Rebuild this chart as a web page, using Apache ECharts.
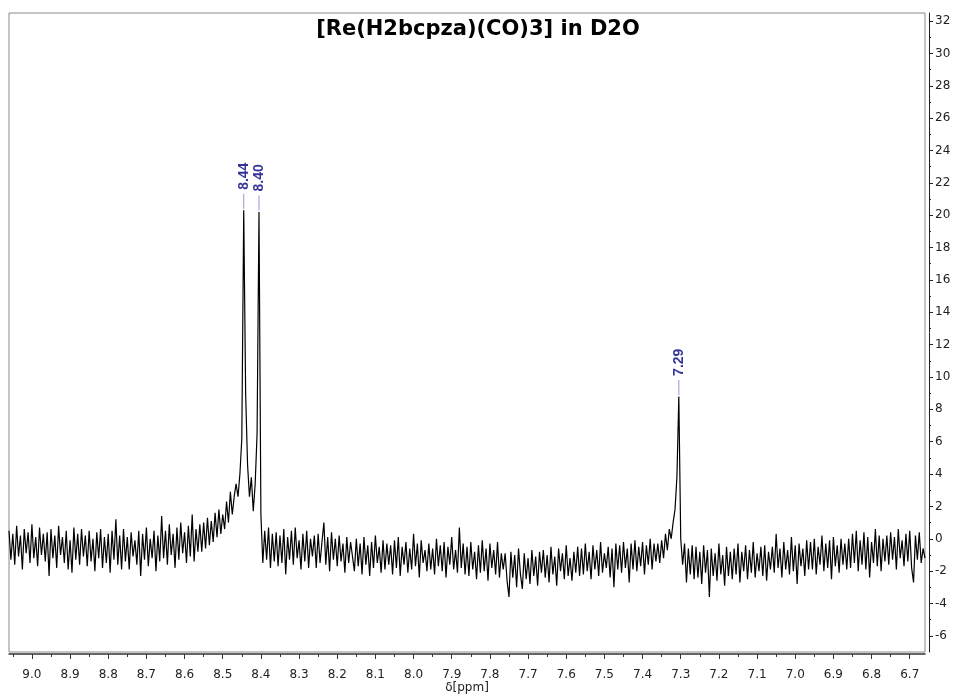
<!DOCTYPE html>
<html>
<head>
<meta charset="utf-8">
<title>[Re(H2bcpza)(CO)3] in D2O</title>
<script src="https://cdn.jsdelivr.net/npm/echarts@6/dist/echarts.min.js"></script>
<style>
  html, body { margin: 0; padding: 0; background: #fff; }
  #chart { width: 956px; height: 699px; }
</style>
</head>
<body>
<div id="chart"></div>
<script>
// spectrum sampled every 0.005 ppm from 9.06 down to 6.66
const ppmStart = 9.06;
const ppmStep = 0.005;
const intensity = [
  0.5, -1.3, 0.3, -1.6, 0.8, -1.1, 0.2, -1.9, 0.6, -0.9, 0.4, -1.5, 0.9, -1.2, 0.1, -1.7, 0.7, -1.0, 0.3, -1.4,
  0.4, -2.3, 0.6, -1.2, 0.2, -1.8, 0.8, -1.0, 0.1, -1.5, 0.5, -1.9, -0.1, -2.1, 0.7, -1.3, 0.3, -1.6, 0.6, -1.1,
  0.2, -1.7, 0.5, -1.4, 0.0, -2.0, 0.4, -1.2, 0.6, -1.8, 0.1, -1.5, 0.3, -2.1, 0.5, -1.3, 1.2, -1.6, 0.2, -1.9,
  0.6, -1.4, 0.1, -1.9, 0.4, -1.1, -0.1, -1.6, 0.5, -2.3, 0.3, -1.3, 0.7, -1.7, 0.0, -1.2, 0.5, -2.0, 0.2, -1.4,
  1.4, -1.2, 0.5, -1.6, 0.9, -1.0, 0.3, -1.8, 0.7, -1.3, 1.0, -0.9, 0.4, -1.5, 0.8, -1.1, 1.5, -1.4, 0.6, -0.8,
  0.9, -0.8, 1.0, -0.6, 1.3, -0.4, 1.1, -0.2, 1.6, 0.1, 1.8, 0.3, 1.5, 0.6, 2.3, 1.0, 2.9, 1.5, 2.6, 3.4,
  2.6, 4.0, 6.2, 20.3, 9.0, 4.6, 2.6, 3.8, 1.7, 3.4, 6.5, 20.2, 1.5, -1.5, 0.5, -1.3, 0.7, -1.8, 0.3, -1.4,
  0.4, -1.7, 0.2, -1.5, 0.6, -2.2, 0.1, -1.3, 0.5, -1.6, 0.7, -1.2, -0.1, -1.9, 0.3, -1.4, 0.5, -1.8, 0.0, -1.1,
  0.2, -1.8, 0.3, -1.5, -0.2, 1.0, -1.6, 0.1, -2.0, 0.4, -1.3, 0.0, -1.7, 0.2, -1.4, -0.3, -2.1, 0.1, -1.5, -0.2,
  -0.1, -2.0, 0.0, -1.7, -0.3, -2.2, 0.1, -1.6, -0.4, -2.3, -0.2, -1.8, 0.2, -1.5, -0.5, -2.1, -0.1, -1.9, -0.3, -1.6,
  -0.4, -2.2, -0.1, -1.8, 0.1, -2.3, -0.5, -1.6, -0.2, -2.1, -0.6, -1.9, 0.3, -1.7, -0.3, -2.4, -0.1, -1.5, -0.7, -2.0,
  -0.3, -1.9, -0.6, -2.2, 0.0, -1.7, -0.4, -2.0, -0.2, -2.4, -0.5, -1.6, 0.1, -1.9, -0.7, -2.1, 0.7, -1.8, -0.3, -2.2,
  -0.5, -2.3, -0.2, -1.9, -0.8, -2.5, -0.4, -2.1, -0.1, -2.0, -0.6, -2.6, -0.3, -1.8, -0.7, -2.2, -0.2, -2.4, -0.9, -1.9,
  -0.9, -2.6, -3.6, -0.8, -2.4, -1.0, -3.0, -0.6, -2.2, -3.1, -0.9, -2.5, -1.2, -2.8, -0.7, -2.3, -1.1, -2.9, -0.8, -2.1,
  -0.7, -2.4, -1.0, -2.7, -0.5, -2.2, -1.1, -2.9, -0.6, -2.0, -0.9, -2.5, -0.4, -2.3, -1.2, -2.6, -0.8, -2.1, -0.5, -2.3,
  -0.6, -2.2, -0.3, -2.0, -0.8, -2.5, -0.4, -1.9, -0.7, -2.3, -0.2, -2.1, -0.9, -1.8, -0.5, -2.4, -0.6, -3.0, -0.3, -1.9,
  -0.4, -2.1, -0.2, -1.8, -0.6, -2.7, -0.3, -1.9, -0.1, -2.0, -0.5, -1.7, -0.2, -2.2, -0.4, -1.6, 0.0, -1.9, -0.3, -1.4,
  -0.3, -1.5, -0.1, -1.2, 0.3, -0.7, 0.6, 0.0, 1.0, 1.8, 3.8, 8.8, 0.0, -1.6, -0.3, -2.7, -0.6, -2.2, -0.4, -2.5,
  -0.5, -2.4, -0.8, -2.8, -0.4, -2.1, -0.7, -3.6, -0.6, -2.3, -0.9, -2.6, -0.3, -2.2, -1.0, -2.9, -0.5, -2.3, -0.8, -2.5,
  -0.6, -2.2, -0.3, -2.7, -0.8, -2.0, -0.4, -2.5, -0.7, -2.1, -0.2, -2.4, -0.9, -2.0, -0.5, -2.3, -0.4, -2.6, -0.8, -1.9,
  -0.5, -2.1, 0.3, -1.8, -0.6, -2.4, -0.2, -1.9, -0.7, -2.2, 0.1, -2.0, -0.4, -2.8, -0.3, -1.7, -0.6, -2.3, -0.1, -1.9,
  -0.2, -1.9, 0.0, -2.2, -0.5, -1.6, 0.2, -2.0, -0.3, -1.8, -0.1, -2.5, 0.1, -1.7, -0.4, -2.1, 0.0, -1.6, -0.3, -1.9,
  0.0, -1.8, 0.3, -1.5, 0.5, -2.0, -0.1, -1.6, 0.4, -1.9, 0.1, -2.4, -0.2, -1.5, 0.6, -1.7, 0.2, -2.0, 0.0, -1.4,
  0.2, -1.6, 0.4, -1.3, 0.1, -1.9, 0.6, -1.2, -0.1, -1.7, 0.3, -1.4, 0.5, -1.8, -2.7, 0.2, -1.3, 0.4, -1.5, -0.6,
  -1.2
];

// picked peaks: position on the axis, height, printed label
const peakPpm = [8.445, 8.405, 7.305];
const peakHeight = [20.3, 20.2, 8.8];
const peakText = ['8.44', '8.40', '7.29'];

// axis ticks
const xMajor = [6.7, 6.8, 6.9, 7.0, 7.1, 7.2, 7.3, 7.4, 7.5, 7.6, 7.7, 7.8, 7.9, 8.0, 8.1, 8.2, 8.3, 8.4, 8.5, 8.6, 8.7, 8.8, 8.9, 9.0];
const xMinor = [6.75, 6.85, 6.95, 7.05, 7.15, 7.25, 7.35, 7.45, 7.55, 7.65, 7.75, 7.85, 7.95, 8.05, 8.15, 8.25, 8.35, 8.45, 8.55, 8.65, 8.75, 8.85, 8.95, 9.05];
const yMajor = [-6, -4, -2, 0, 2, 4, 6, 8, 10, 12, 14, 16, 18, 20, 22, 24, 26, 28, 30, 32];
const yMinor = [-5, -3, -1, 1, 3, 5, 7, 9, 11, 13, 15, 17, 19, 21, 23, 25, 27, 29, 31];

const spectrum = intensity.map((v, i) => [+(ppmStart - i * ppmStep).toFixed(3), v]);
const peaks = peakPpm.map((p, i) => ({ name: peakText[i], value: [p, peakHeight[i]] }));

const chart = echarts.init(document.getElementById('chart'));
const tickFont = { fontFamily: 'DejaVu Sans', fontSize: 12, color: '#222' };

chart.setOption({
  animation: false,
  title: {
    text: '[Re(H2bcpza)(CO)3] in D2O',
    left: 'center',
    top: 19,
    padding: 0,
    textStyle: { fontFamily: 'DejaVu Sans', fontSize: 21, fontWeight: 'bold', color: '#000' }
  },
  grid: {
    left: 9, right: 31, top: 13, bottom: 47,
    outerBoundsMode: 'none',
    show: true, borderColor: '#8a8a8a', borderWidth: 1, backgroundColor: '#fff'
  },
  xAxis: [
    {
      type: 'value', inverse: true, min: 6.66, max: 9.06, offset: 2,
      axisLine: { show: true, onZero: false, lineStyle: { color: '#333', width: 1.5 } },
      axisTick: { show: true, length: 5, customValues: xMajor, lineStyle: { color: '#333' } },
      axisLabel: Object.assign({ customValues: xMajor, margin: 15, formatter: v => v.toFixed(1) }, tickFont),
      splitLine: { show: false },
      name: 'δ[ppm]', nameLocation: 'middle', nameGap: 28, nameMoveOverlap: false,
      nameTextStyle: tickFont
    },
    {
      type: 'value', inverse: true, min: 6.66, max: 9.06, position: 'bottom', offset: 2,
      axisLine: { show: false, onZero: false },
      axisTick: { show: true, length: 3, customValues: xMinor, lineStyle: { color: '#333' } },
      axisLabel: { show: false },
      splitLine: { show: false }
    }
  ],
  yAxis: [
    {
      type: 'value', position: 'right', min: -7, max: 32.5, offset: 4,
      axisLine: { show: true, onZero: false, lineStyle: { color: '#222', width: 1 } },
      axisTick: { show: true, length: 4, customValues: yMajor, lineStyle: { color: '#222' } },
      axisLabel: Object.assign({ customValues: yMajor, margin: 6 }, tickFont),
      splitLine: { show: false }
    },
    {
      type: 'value', position: 'right', min: -7, max: 32.5, offset: 4,
      axisLine: { show: false, onZero: false },
      axisTick: { show: true, length: 2, customValues: yMinor, lineStyle: { color: '#222' } },
      axisLabel: { show: false },
      splitLine: { show: false }
    }
  ],
  series: [
    {
      type: 'line',
      data: spectrum,
      showSymbol: false,
      symbol: 'none',
      sampling: null,
      lineStyle: { color: '#000', width: 1.2 },
      clip: true,
      z: 2
    },
    {
      type: 'scatter',
      data: peaks,
      symbol: 'rect',
      symbolSize: [1, 15],
      symbolOffset: [0, -9],
      itemStyle: { color: '#7a7ad0' },
      label: {
        show: true,
        formatter: p => p.name,
        position: 'top',
        distance: 4,
        rotate: 90,
        align: 'left',
        verticalAlign: 'middle',
        color: '#00007f',
        fontFamily: 'Liberation Sans',
        fontWeight: 'bold',
        fontSize: 14
      },
      z: 3
    }
  ]
});
</script>
</body>
</html>
